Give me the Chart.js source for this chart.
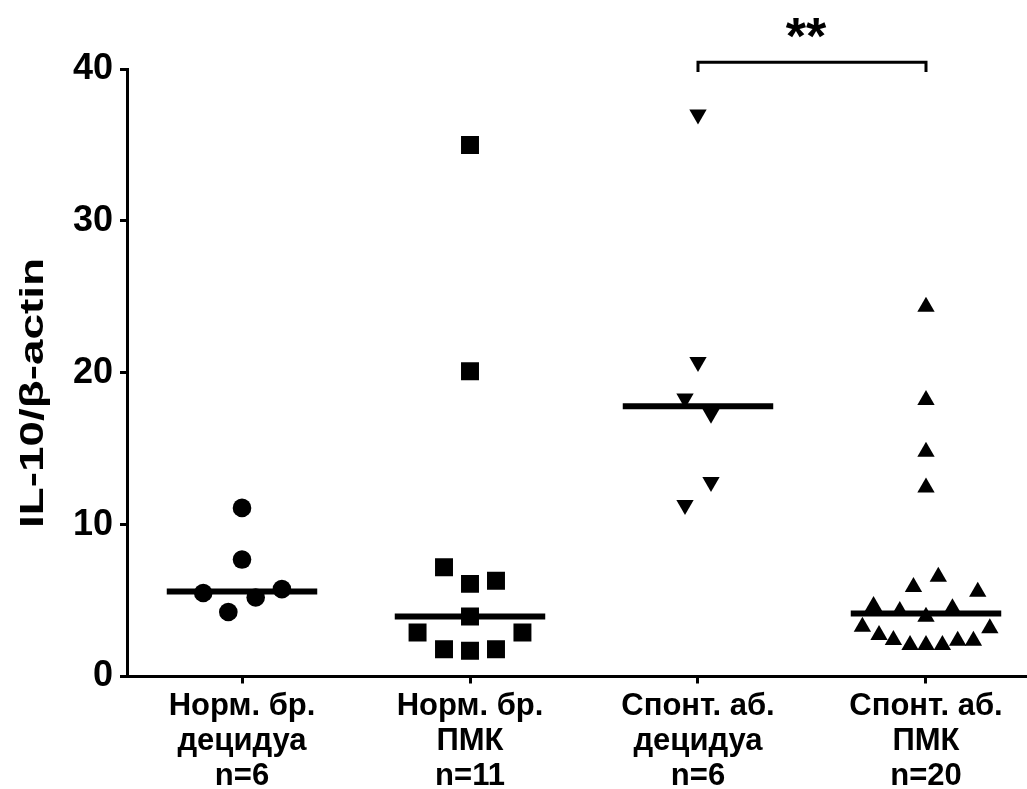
<!DOCTYPE html>
<html>
<head>
<meta charset="utf-8">
<script src="https://cdn.jsdelivr.net/npm/chart.js@4.4.0/dist/chart.umd.min.js"></script>
<style>
  body { margin: 0; background: #fff; }
</style>
</head>
<body>
<canvas id="il10Chart" width="1027" height="789"></canvas>
<script>
// groups on the x axis
const groupLabels = [
  ['Норм. бр.', 'децидуа', 'n=6'],
  ['Норм. бр.', 'ПМК', 'n=11'],
  ['Спонт. аб.', 'децидуа', 'n=6'],
  ['Спонт. аб.', 'ПМК', 'n=20']
];
const yTicks = [0, 10, 20, 30, 40];
const yTitle = 'IL-10/β-actin';

// IL-10/b-actin values, with horizontal spread (in group units)
const normDecidua = [11.1, 7.7, 5.5, 4.25, 5.2, 5.75];
const normDeciduaSpread = [0, 0, -0.17, -0.06, 0.06, 0.175];

const normPmk = [35.0, 20.1, 7.2, 6.1, 6.3, 3.95, 2.9, 2.9, 1.8, 1.7, 1.8];
const normPmkSpread = [0, 0, -0.114, 0, 0.114, 0, -0.23, 0.23, -0.114, 0, 0.114];

const spontDecidua = [37.0, 20.7, 18.3, 17.3, 12.8, 11.3];
const spontDeciduaSpread = [0, 0, -0.057, 0.057, 0.057, -0.057];

const spontPmk = [24.35, 18.2, 14.8, 12.45, 6.57, 5.9, 5.58, 4.64, 4.31, 4.49,
                  3.94, 3.28, 3.17, 2.73, 2.4, 2.07, 2.07, 2.07, 2.36, 2.36];
const spontPmkSpread = [0, 0, 0, 0, 0.054, -0.055, 0.227, -0.23, -0.115, 0.116,
                        0, -0.279, 0.28, -0.206, -0.143, -0.07, 0, 0.072, 0.139, 0.208];

const medians = [5.6, 3.95, 17.8, 4.15];
const medianHalfWidth = 0.33;

// significance bracket between groups 3 and 4
const bracketGroups = [3, 4];
const bracketLevel = 40.45;
const bracketLabel = '**';

function toPoints(values, spread, group) {
  return values.map((v, i) => ({ x: group + spread[i], y: v }));
}

const black = '#000';
const fontFamily = '"Liberation Sans", Arial, sans-serif';
const groups = [
  { data: toPoints(normDecidua, normDeciduaSpread, 1), pointStyle: 'circle', pointRadius: 9.3, rotation: 0 },
  { data: toPoints(normPmk, normPmkSpread, 2), pointStyle: 'rect', pointRadius: 12.7, rotation: 0 },
  { data: toPoints(spontDecidua, spontDeciduaSpread, 3), pointStyle: 'triangle', pointRadius: 10, rotation: 180 },
  { data: toPoints(spontPmk, spontPmkSpread, 4), pointStyle: 'triangle', pointRadius: 10, rotation: 0 }
];

const datasets = [];
medians.forEach((m, i) => {
  datasets.push({
    data: [{ x: i + 1 - medianHalfWidth, y: m }, { x: i + 1 + medianHalfWidth, y: m }],
    showLine: true,
    borderColor: black,
    borderWidth: 6,
    pointRadius: 0,
    borderCapStyle: 'butt'
  });
});
groups.forEach(g => {
  datasets.push({
    data: g.data,
    showLine: false,
    pointStyle: g.pointStyle,
    pointRadius: g.pointRadius,
    pointRotation: g.rotation,
    backgroundColor: black,
    borderColor: black,
    pointBorderWidth: 0
  });
});

const extrasPlugin = {
  id: 'extras',
  afterDraw(chart) {
    const { ctx, scales: { x, y } } = chart;
    // bracket and stars
    const x1 = x.getPixelForValue(bracketGroups[0]);
    const x2 = x.getPixelForValue(bracketGroups[1]);
    const yTop = y.getPixelForValue(bracketLevel);
    const yEnd = y.getPixelForValue(39.8);
    ctx.save();
    ctx.strokeStyle = black;
    ctx.lineWidth = 3;
    ctx.beginPath();
    ctx.moveTo(x1, yEnd);
    ctx.lineTo(x1, yTop);
    ctx.lineTo(x2, yTop);
    ctx.lineTo(x2, yEnd);
    ctx.stroke();
    ctx.fillStyle = black;
    ctx.font = 'bold 52px ' + fontFamily;
    ctx.textAlign = 'center';
    ctx.textBaseline = 'middle';
    ctx.fillText(bracketLabel, (x1 + x2) / 2 - 6, y.getPixelForValue(41.95));
    ctx.restore();

    // y axis title, stretched along its length like the original
    ctx.save();
    ctx.font = 'bold 34px ' + fontFamily;
    const w = ctx.measureText(yTitle).width;
    ctx.translate(34, 393);
    ctx.rotate(-Math.PI / 2);
    ctx.scale(270 / w, 1);
    ctx.fillStyle = black;
    ctx.textAlign = 'center';
    ctx.textBaseline = 'middle';
    ctx.fillText(yTitle, 0, 0);
    ctx.restore();
  }
};

new Chart(document.getElementById('il10Chart'), {
  type: 'scatter',
  data: { datasets },
  plugins: [extrasPlugin],
  options: {
    responsive: false,
    devicePixelRatio: 1,
    animation: false,
    layout: { autoPadding: false, padding: { top: 69, right: 0, bottom: 0, left: 0 } },
    plugins: {
      legend: { display: false },
      tooltip: { enabled: false }
    },
    scales: {
      x: {
        type: 'linear',
        min: 0.4956,
        max: 4.443,
        afterBuildTicks: axis => { axis.ticks = groupLabels.map((_, i) => ({ value: i + 1 })); },
        afterFit: axis => {
          axis.height = 112.5;
          axis.paddingLeft = 0;
          axis.paddingRight = 0;
        },
        ticks: {
          autoSkip: false,
          maxRotation: 0,
          color: black,
          padding: 5,
          font: { family: fontFamily, size: 31, weight: 'bold', lineHeight: 1.13 },
          callback: value => groupLabels[value - 1] || ''
        },
        grid: { display: true, drawOnChartArea: false, drawTicks: true, tickLength: 7, tickWidth: 3, tickColor: black },
        border: { display: true, width: 3, color: black }
      },
      y: {
        min: 0,
        max: 40,
        afterBuildTicks: axis => { axis.ticks = yTicks.map(v => ({ value: v })); },
        afterFit: axis => { axis.width = 127; },
        ticks: {
          color: black,
          padding: 7,
          font: { family: fontFamily, size: 36, weight: 'bold' }
        },
        grid: { display: true, drawOnChartArea: false, drawTicks: true, tickLength: 7, tickWidth: 3, tickColor: black },
        border: { display: true, width: 3, color: black }
      }
    }
  }
});
</script>
</body>
</html>
